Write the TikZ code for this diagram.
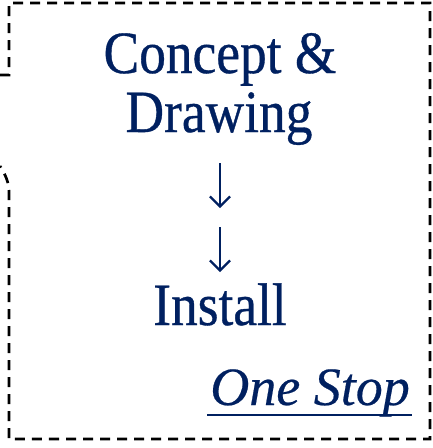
\documentclass[tikz,border=0pt]{standalone}
\usepackage{fontspec}
\usetikzlibrary{arrows.meta}
\setmainfont[FakeStretch=0.89,FakeBold=0.6]{Liberation Serif}
\newfontfamily\stopfont[FakeBold=0.4]{Liberation Serif}
\definecolor{navy}{RGB}{0,32,96}
\begin{document}
\begin{tikzpicture}[x=1pt,y=-1pt,
  txt/.style={text=navy, inner sep=0pt, anchor=base, font=\fontsize{60}{60}\selectfont},
  stoptxt/.style={text=navy, inner sep=0pt, anchor=base east, font=\stopfont\itshape\fontsize{54}{54}\selectfont},
  arrowline/.style={draw=navy, line width=2.2pt, -{Straight Barb[length=10pt,width=20pt,line width=2.2pt]}},
  border/.style={draw=black, line width=2.7pt, dash pattern=on 10pt off 7pt}]
\useasboundingbox (0,0) rectangle (433,448);
\draw[border] (0,75) -- (9,75) -- (9,3) -- (430,3) -- (430,439) -- (9,439) -- (9,192)
  .. controls (9,182) and (5,174) .. (0,166);
\node[txt] (concept) at (220,73) {Concept \&};
\node[txt] (drawing) at (219,132) {Drawing};
\coordinate (a1s) at (220,163);
\coordinate (a1e) at (220,208);
\coordinate (a2s) at (220,227);
\coordinate (a2e) at (220,272);
\draw[arrowline] (a1s) -- (a1e);
\draw[arrowline] (a2s) -- (a2e);
\node[txt] (install) at (220,325) {Install};
\node[stoptxt] (stop) at (410,405) {One Stop};
\draw[navy, line width=1.6pt] ([xshift=-3pt,yshift=-10pt]stop.base west) -- ([xshift=2pt,yshift=-10pt]stop.base east);
\end{tikzpicture}
\end{document}
